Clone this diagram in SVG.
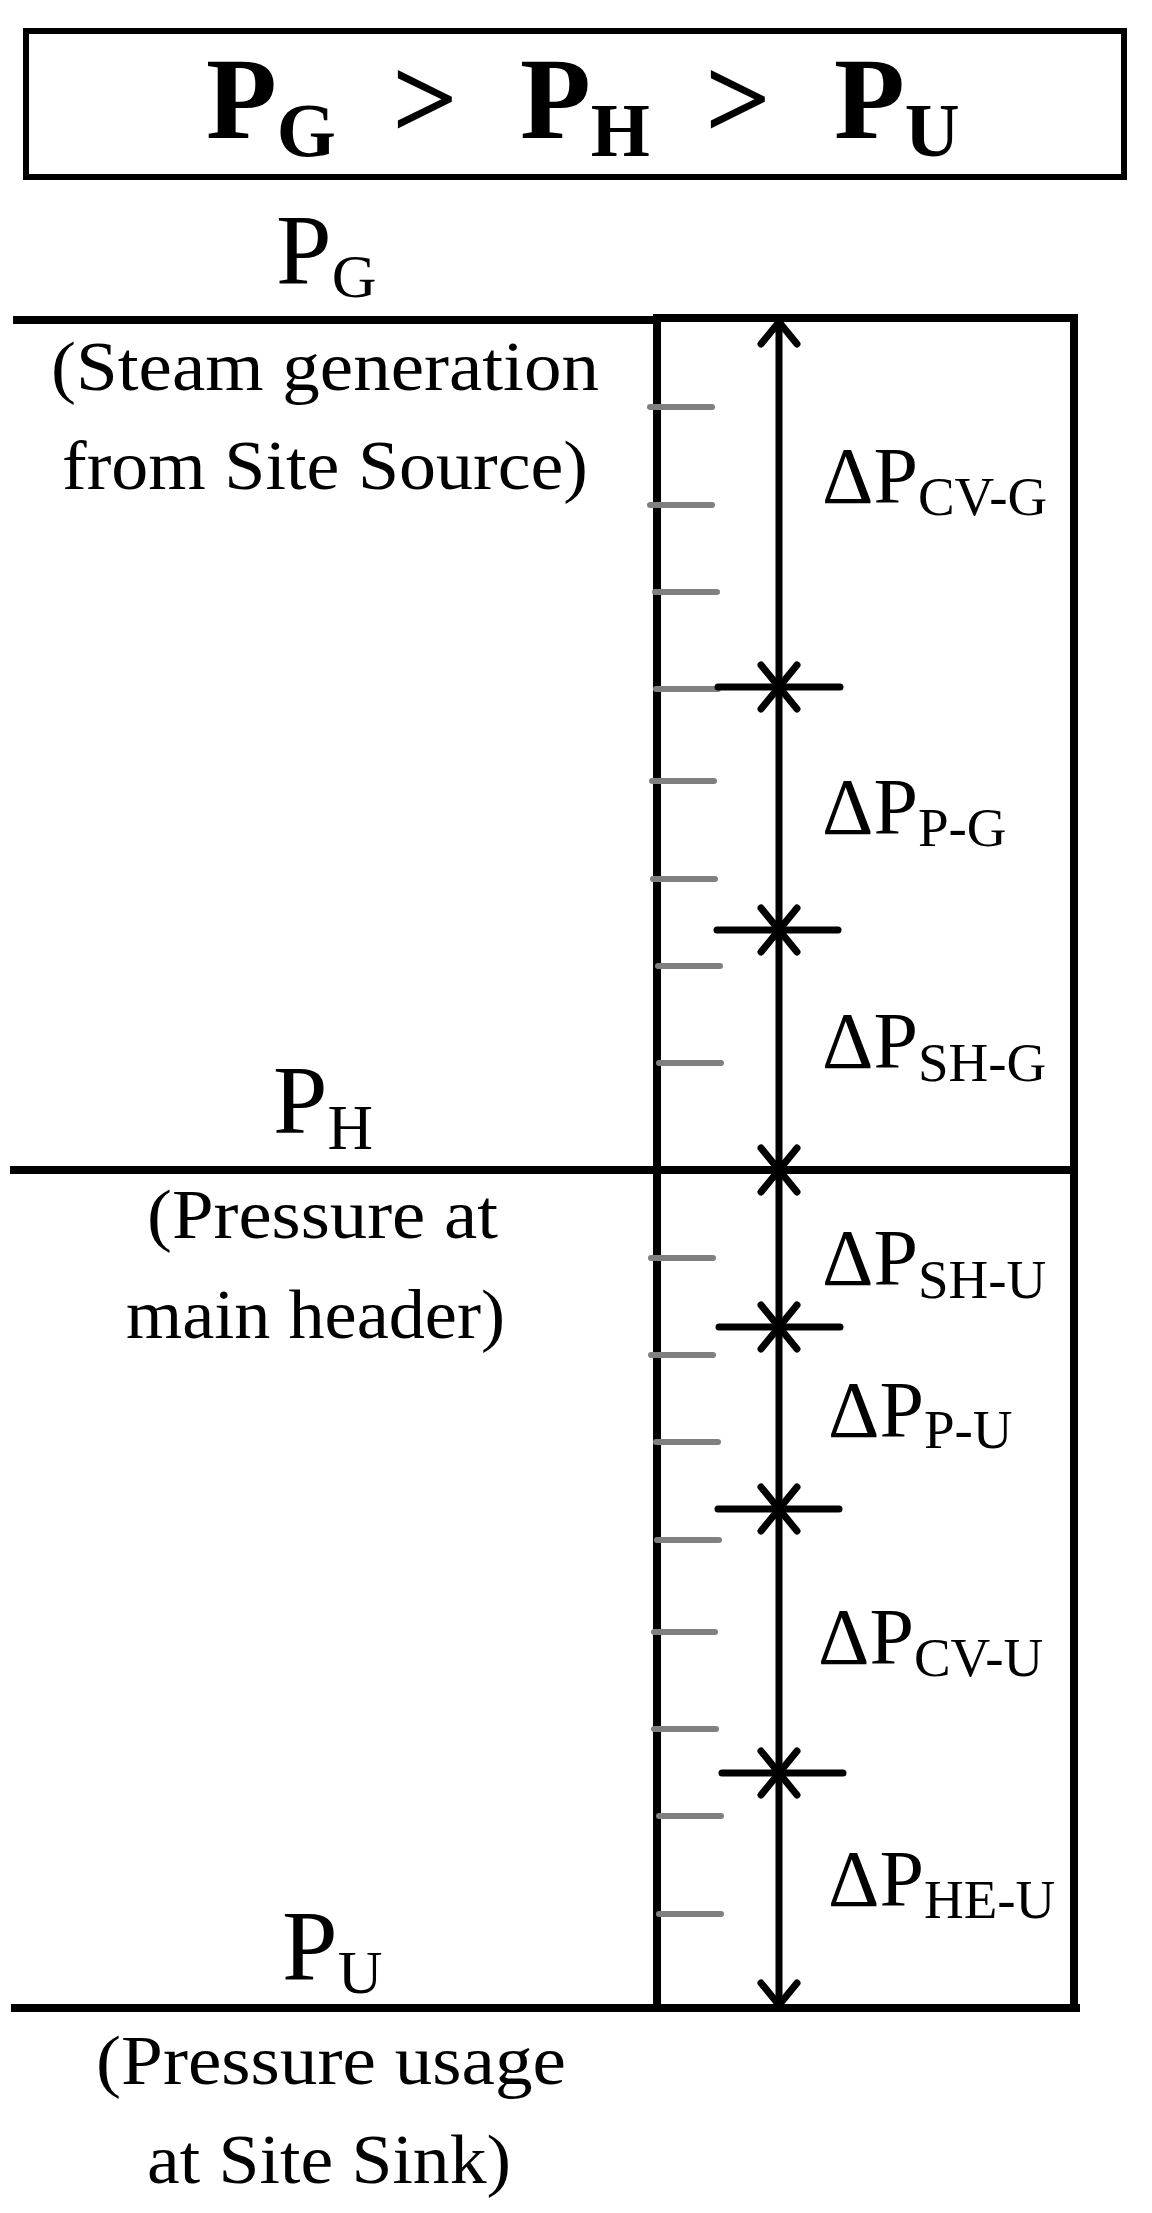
<svg xmlns="http://www.w3.org/2000/svg" xmlns:xlink="http://www.w3.org/1999/xlink" width="1152" height="2213" viewBox="0 0 1152 2213">
<style>
.t{font-family:"Liberation Serif","Times New Roman",serif;fill:#000}
.tb{font-family:"Liberation Serif","Times New Roman",serif;font-weight:bold;fill:#000}
.main{stroke:#000;stroke-width:8;fill:none;stroke-linecap:square}
.dim{stroke:#000;stroke-width:7;fill:none;stroke-linecap:round}
.bar{stroke:#000;stroke-width:7;fill:none;stroke-linecap:round}
.tick{stroke:#808080;stroke-width:6;fill:none;stroke-linecap:round}
.lbl{font-size:80px}
.desc{font-size:70px}
</style>
<defs>
<polyline id="aDown" points="-18,-22 0,0 18,-22" fill="none" stroke="#000" stroke-width="7" stroke-linecap="round" stroke-linejoin="round"/>
<polyline id="aUp" points="-18,22 0,0 18,22" fill="none" stroke="#000" stroke-width="7" stroke-linecap="round" stroke-linejoin="round"/>
</defs>
<rect width="1152" height="2213" fill="#fff"/>

<g id="title">
<rect x="26" y="31" width="1098" height="146" fill="none" stroke="#000" stroke-width="6"/>
<text class="tb" font-size="116" y="138"><tspan x="206">P</tspan><tspan font-size="76" dy="18">G</tspan></text>
<text class="tb" font-size="116" x="392" y="138">&gt;</text>
<text class="tb" font-size="116" y="138"><tspan x="520">P</tspan><tspan font-size="76" dy="18">H</tspan></text>
<text class="tb" font-size="116" x="705" y="138">&gt;</text>
<text class="tb" font-size="116" y="138"><tspan x="834">P</tspan><tspan font-size="76" dy="18">U</tspan></text>
</g>

<g id="frame">
<line class="main" x1="17" y1="320" x2="657" y2="320"/>
<line class="main" x1="657" y1="318" x2="1074" y2="318"/>
<line class="main" x1="657" y1="318" x2="657" y2="2008"/>
<line class="main" x1="1074" y1="318" x2="1074" y2="2008"/>
<line class="main" x1="14" y1="1170" x2="1074" y2="1170"/>
<line class="main" x1="15" y1="2008" x2="1076" y2="2008"/>
</g>

<g id="ticks">
<line class="tick" x1="650" y1="407" x2="712" y2="407"/>
<line class="tick" x1="650" y1="505" x2="712" y2="505"/>
<line class="tick" x1="655" y1="592" x2="717" y2="592"/>
<line class="tick" x1="656" y1="689" x2="718" y2="689"/>
<line class="tick" x1="652" y1="781" x2="714" y2="781"/>
<line class="tick" x1="653" y1="879" x2="715" y2="879"/>
<line class="tick" x1="658" y1="966" x2="720" y2="966"/>
<line class="tick" x1="659" y1="1063" x2="721" y2="1063"/>
<line class="tick" x1="651" y1="1258" x2="713" y2="1258"/>
<line class="tick" x1="651" y1="1355" x2="713" y2="1355"/>
<line class="tick" x1="656" y1="1442" x2="718" y2="1442"/>
<line class="tick" x1="657" y1="1540" x2="719" y2="1540"/>
<line class="tick" x1="654" y1="1632" x2="715" y2="1632"/>
<line class="tick" x1="654" y1="1729" x2="716" y2="1729"/>
<line class="tick" x1="659" y1="1816" x2="721" y2="1816"/>
<line class="tick" x1="659" y1="1914" x2="721" y2="1914"/>
</g>

<g id="connectors">
<line class="dim" x1="779" y1="322" x2="779" y2="2005"/>
<line class="bar" x1="718" y1="687" x2="840" y2="687"/>
<line class="bar" x1="717" y1="930" x2="838" y2="930"/>
<line class="bar" x1="719" y1="1327" x2="840" y2="1327"/>
<line class="bar" x1="718" y1="1509" x2="839" y2="1509"/>
<line class="bar" x1="722" y1="1773" x2="843" y2="1773"/>
<use xlink:href="#aUp" x="779" y="322"/>
<use xlink:href="#aDown" x="779" y="687"/>
<use xlink:href="#aUp" x="779" y="687"/>
<use xlink:href="#aDown" x="779" y="930"/>
<use xlink:href="#aUp" x="779" y="930"/>
<use xlink:href="#aDown" x="779" y="1170"/>
<use xlink:href="#aUp" x="779" y="1170"/>
<use xlink:href="#aDown" x="779" y="1327"/>
<use xlink:href="#aUp" x="779" y="1327"/>
<use xlink:href="#aDown" x="779" y="1509"/>
<use xlink:href="#aUp" x="779" y="1509"/>
<use xlink:href="#aDown" x="779" y="1773"/>
<use xlink:href="#aUp" x="779" y="1773"/>
<use xlink:href="#aDown" x="779" y="2005"/>
</g>

<g id="dp-labels">
<text class="t lbl" x="822" y="503">ΔP<tspan font-size="55" dy="12">CV-G</tspan></text>
<text class="t lbl" x="822" y="834">ΔP<tspan font-size="55" dy="12">P-G</tspan></text>
<text class="t lbl" x="822" y="1068">ΔP<tspan font-size="55" dy="13">SH-G</tspan></text>
<text class="t lbl" x="822" y="1285">ΔP<tspan font-size="55" dy="13">SH-U</tspan></text>
<text class="t lbl" x="828" y="1437">ΔP<tspan font-size="55" dy="11">P-U</tspan></text>
<text class="t lbl" x="818" y="1664">ΔP<tspan font-size="55" dy="12">CV-U</tspan></text>
<text class="t lbl" x="828" y="1906">ΔP<tspan font-size="55" dy="12">HE-U</tspan></text>
</g>

<g id="node-PG">
<text class="t" font-size="100" x="276" y="283">P<tspan font-size="62" dy="14">G</tspan></text>
<text class="t desc" x="51" y="390" textLength="548" lengthAdjust="spacingAndGlyphs">(Steam generation</text>
<text class="t desc" x="62" y="489" textLength="526" lengthAdjust="spacingAndGlyphs">from Site Source)</text>
</g>

<g id="node-PH">
<text class="t" font-size="98" x="273" y="1133">P<tspan font-size="63" dy="16">H</tspan></text>
<text class="t desc" x="147" y="1238" textLength="351" lengthAdjust="spacingAndGlyphs">(Pressure at</text>
<text class="t desc" x="126" y="1338" textLength="379" lengthAdjust="spacingAndGlyphs">main header)</text>
</g>

<g id="node-PU">
<text class="t" font-size="100" x="282" y="1979">P<tspan font-size="62" dy="14">U</tspan></text>
<text class="t desc" x="96" y="2084" textLength="470" lengthAdjust="spacingAndGlyphs">(Pressure usage</text>
<text class="t desc" x="147" y="2183" textLength="364" lengthAdjust="spacingAndGlyphs">at Site Sink)</text>
</g>
</svg>
